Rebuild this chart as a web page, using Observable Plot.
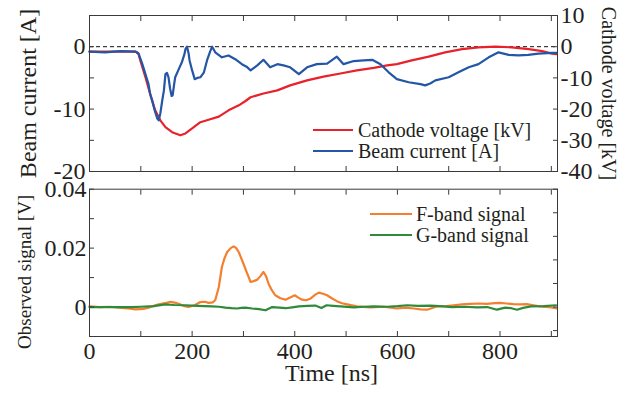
<!DOCTYPE html>
<html><head><meta charset="utf-8">
<script src="https://cdn.jsdelivr.net/npm/d3@7"></script>
<script src="https://cdn.jsdelivr.net/npm/@observablehq/plot@0.6"></script>
<style>
body{margin:0;background:#fff;}
#chart{position:relative;width:629px;height:394px;font-family:"Liberation Serif",serif;color:#231f20;background:#fff;overflow:hidden}
#top,#bottom{position:absolute;left:0;}
#top{top:0}
#bottom{top:178px}
.leg{position:absolute;font-size:20px;line-height:20px;height:20px;white-space:nowrap;display:flex;align-items:center}
.sw{display:inline-block;height:2px}
</style></head>
<body><div id="chart"><div id="top"></div><div id="bottom"></div>
<div class="leg" style="left:313px;top:120px"><span class="sw" style="width:40px;margin-right:5px;background:#e8222b"></span>Cathode voltage [kV]</div>
<div class="leg" style="left:313px;top:141px"><span class="sw" style="width:40px;margin-right:5px;background:#2456a6"></span>Beam current [A]</div>
<div class="leg" style="left:370px;top:204px"><span class="sw" style="width:42px;margin-right:4px;background:#f47f30"></span>F-band signal</div>
<div class="leg" style="left:370px;top:225px"><span class="sw" style="width:42px;margin-right:4px;background:#2f8a3a"></span>G-band signal</div>
</div>
<script>
// Beam current [A]
const currentT = [0,30,60,90,96,103,109,112,115,118,122,127,132,135,138,142,145,148,151,154,157,160,162,165,167,174,180,185,187,190,193,195,200,205,210,216,223,229,235,239,245,258,271,284,297,306,314,327,339,352,366,378,391,408,424,443,463,482,495,515,534,551,567,583,599,622,645,654,664,674,700,719,739,758,778,797,817,836,855,875,901,910];
const currentA = [-0.8,-0.9,-0.7,-0.8,-1.2,-2.8,-4.4,-5.2,-6,-7.5,-8.6,-10.2,-11.5,-11.8,-10.7,-8.5,-7,-4.4,-4.2,-4.9,-6.7,-7.9,-7.8,-6,-4.9,-3.6,-2.5,-1.2,-0.4,0,-1,-2.2,-3.8,-5.2,-5.0,-4.9,-4.1,-2.2,-0.8,0,-0.9,-1.7,-1.4,-2.0,-2.8,-3.2,-3.8,-3.0,-2.1,-3.3,-2.8,-3.0,-3.3,-4.4,-3.3,-2.8,-2.7,-1.6,-2.8,-2.3,-2.2,-2.1,-2.8,-4.1,-5.2,-5.7,-6.0,-6.2,-5.9,-5.4,-4.9,-4.1,-3.3,-2.8,-1.7,-0.9,-1.3,-1.4,-1.3,-1.1,-1.0,-1.0];
// Cathode voltage [kV]
const voltageT = [0,90,95,99,109,119,128,138,148,161,177,187,200,216,232,252,271,291,304,314,339,366,391,424,456,489,521,554,580,599,628,661,693,726,758,791,823,856,882,901,910];
const voltageKV = [-1.6,-1.6,-2.0,-4.4,-9.8,-15.6,-20.4,-23.6,-25.8,-27.4,-28.4,-27.8,-26.2,-24.2,-23.4,-22.4,-20.4,-18.8,-17.4,-16.2,-15.0,-14.0,-12.4,-10.8,-9.6,-8.6,-7.6,-6.8,-6.0,-5.6,-4.4,-3.2,-1.8,-0.8,-0.2,0,-0.2,-0.8,-1.4,-2.2,-2.4];
// F-band signal [V]
const fT = [0,20,40,57,75,90,105,115,135,150,158,166,174,185,193,205,216,225,232,240,245,252,258,263,268,275,281,286,291,300,307,314,320,327,333,339,344,349,355,362,372,382,392,400,407,414,422,430,440,447,455,463,472,482,492,502,521,547,573,599,615,632,645,658,668,677,695,710,726,742,758,774,790,800,813,826,840,852,865,878,895,911];
const fV = [0.0002,0,0.0001,-0.0002,-0.0005,-0.0008,-0.0006,-0.0002,0.0009,0.0014,0.0018,0.0015,0.0011,0.0003,0,0.0006,0.0017,0.0018,0.0014,0.0016,0.0023,0.0068,0.0136,0.0165,0.0186,0.0200,0.0206,0.0200,0.0186,0.0147,0.0115,0.0085,0.0088,0.0093,0.0105,0.0119,0.0105,0.0079,0.0058,0.004,0.003,0.0025,0.0033,0.004,0.0032,0.0025,0.0023,0.0028,0.0042,0.0049,0.0045,0.004,0.003,0.002,0.0013,0.0009,0.0002,-0.0001,0.0001,-0.0005,-0.0002,-0.0005,-0.0008,-0.0009,-0.0003,0.0002,0.0003,0.0006,0.0009,0.0011,0.0012,0.0011,0.0013,0.0014,0.0012,0.001,0.0009,0.001,0.0006,0.0002,0,-0.0005];
// G-band signal [V]
const gT = [0,40,80,100,125,148,165,187,210,239,252,265,277,287,296,304,317,330,343,350,356,370,382,395,408,425,440,452,462,475,489,515,535,554,580,600,619,640,665,690,706,730,755,775,794,810,822,833,845,860,885,909];
const gV = [0,0,0,0.0001,0.0003,0.0009,0.0007,0.0006,0.0004,0.0002,0.0001,-0.0002,-0.0004,-0.0005,-0.0003,-0.0002,-0.0005,-0.0007,-0.0011,-0.0005,0,-0.0002,-0.0004,-0.0001,0.0002,0.0004,0.0005,-0.0003,0.0006,0.0004,0.0002,-0.0001,0.0001,0.0002,0.0001,0.0003,0.0006,0.0004,0.0005,0.0002,0,0.0001,-0.0001,0,-0.0009,-0.0002,-0.0004,-0.0009,-0.0003,0.0002,0.0003,0.0006];

// Ticks
const xTicks = [0,100,200,300,400,500,600,700,800,900];
const xLabels = [0,200,400,600,800];
const topYTicks = [-20,-15,-10,-5,0,5];
const topYLabels = [-20,-10,0];
const botYTicks = [-0.01,0,0.01,0.02,0.03,0.04];
const botYLabels = [0,0.02,0.04];
const botRightTicks = [-0.008,0,0.008,0.016,0.024,0.032,0.04];

const RED = "#e8222b", BLUE = "#2456a6", ORANGE = "#f47f30", GREEN = "#2f8a3a";
const INK = "#231f20", FRAME = "#3a3a3a";

const currentData = currentT.map((t, i) => ({t, v: currentA[i]}));
const voltageData = voltageT.map((t, i) => ({t, v: voltageKV[i]}));
const fData = fT.map((t, i) => ({t, v: fV[i]}));
const gData = gT.map((t, i) => ({t, v: gV[i]}));

const style = {fontFamily: "Liberation Serif, serif", fontSize: "24px", color: INK, background: "transparent", overflow: "visible"};

const topPlot = Plot.plot({
  width: 629, height: 185, marginTop: 15, marginBottom: 14, marginLeft: 89, marginRight: 72,
  style,
  x: {domain: [0, 912], label: null},
  y: {domain: [-20, 5], label: null},
  marks: [
    Plot.ruleY([0], {stroke: "#111", strokeDasharray: "4,3", strokeWidth: 1}),
    Plot.line(voltageData, {x: "t", y: d => d.v / 2, stroke: RED, strokeWidth: 2.2}),
    Plot.line(currentData, {x: "t", y: "v", stroke: BLUE, strokeWidth: 2.2}),
    Plot.axisX(xTicks, {anchor: "bottom", tickSize: -5, tickFormat: () => "", stroke: FRAME, label: null}),
    Plot.axisX(xTicks, {anchor: "top", tickSize: -5, tickFormat: () => "", stroke: FRAME, label: null}),
    Plot.axisY(topYTicks, {anchor: "left", tickSize: -5, tickPadding: 9, stroke: FRAME, fill: INK, label: null,
      tickFormat: d => topYLabels.includes(d) ? String(d) : ""}),
    Plot.axisY(topYTicks, {anchor: "right", tickSize: -5, tickPadding: 8, stroke: FRAME, fill: INK, label: null,
      tickFormat: d => String(d * 2)}),
    Plot.frame({stroke: FRAME}),
    Plot.text(["Beam current [A]"], {text: d => d, frameAnchor: "left", textAnchor: "middle", lineAnchor: "middle", dx: -61, rotate: -90, fontSize: 24, fill: INK}),
    Plot.text(["Cathode voltage [kV]"], {text: d => d, frameAnchor: "right", textAnchor: "middle", lineAnchor: "middle", dx: 51, rotate: 90, fontSize: 20, fill: INK})
  ]
});
document.getElementById("top").appendChild(topPlot);

const botPlot = Plot.plot({
  width: 629, height: 216, marginTop: 10.7, marginBottom: 58, marginLeft: 89, marginRight: 72,
  style,
  x: {domain: [0, 912], label: null},
  y: {domain: [-0.01, 0.04], label: null},
  marks: [
    Plot.line(fData, {x: "t", y: "v", stroke: ORANGE, strokeWidth: 2.2}),
    Plot.line(gData, {x: "t", y: "v", stroke: GREEN, strokeWidth: 2.2}),
    Plot.axisX(xTicks, {anchor: "bottom", tickSize: -5, tickPadding: 10, stroke: FRAME, fill: INK, label: null,
      tickFormat: d => xLabels.includes(d) ? String(d) : ""}),
    Plot.axisX(xTicks, {anchor: "top", tickSize: -5, tickFormat: () => "", stroke: FRAME, label: null}),
    Plot.axisY(botYTicks, {anchor: "left", tickSize: -5, tickPadding: 8, stroke: FRAME, fill: INK, label: null,
      tickFormat: d => botYLabels.includes(d) ? (d === 0 ? "0" : d.toFixed(2)) : ""}),
    Plot.axisY(botRightTicks, {anchor: "right", tickSize: -5, tickFormat: () => "", stroke: FRAME, label: null}),
    Plot.frame({stroke: FRAME}),
    Plot.text(["Observed signal [V]"], {text: d => d, frameAnchor: "left", textAnchor: "middle", lineAnchor: "middle", dx: -65, dy: 9, rotate: -90, fontSize: 19, fill: INK}),
    Plot.text(["Time [ns]"], {text: d => d, frameAnchor: "bottom", textAnchor: "middle", lineAnchor: "middle", dx: 8, dy: 37, fontSize: 24, fill: INK})
  ]
});
document.getElementById("bottom").appendChild(botPlot);
</script>
</body></html>
